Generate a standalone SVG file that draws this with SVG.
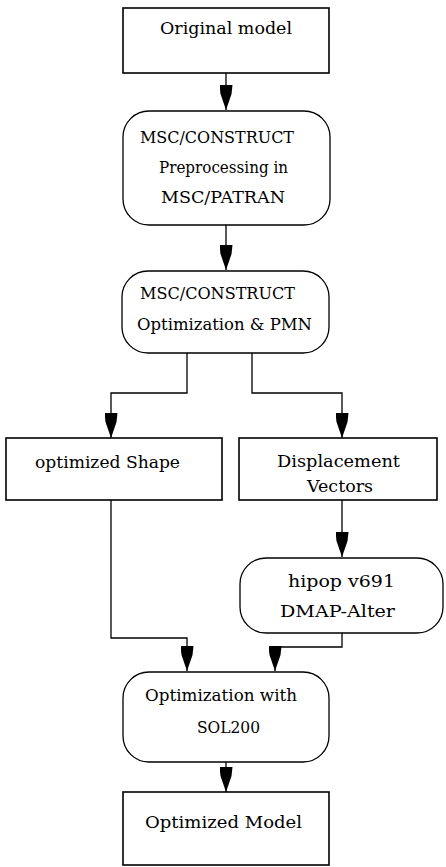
<svg xmlns="http://www.w3.org/2000/svg" width="446" height="867" viewBox="0 0 446 867">
<style>
  .box { fill: #ffffff; stroke: #000000; stroke-width: 1.6; }
  .rnd { fill: #ffffff; stroke: #000000; stroke-width: 1.3; }
  .lbl { font-family: 'DejaVu Serif', 'Liberation Serif', serif; font-size: 16px; fill: #000000; text-anchor: middle; }
  .con { fill: none; stroke: #000000; stroke-width: 1.3; marker-end: url(#ah); }
</style>
<defs>
  <marker id="ah" markerUnits="userSpaceOnUse" viewBox="0 0 25 13" refX="25" refY="6.5" markerWidth="25" markerHeight="13" orient="auto">
    <path d="M0,0 L9,1 L25,6.5 L9,12 L0,13 z" fill="#000000"/>
  </marker>
</defs>
<rect width="446" height="867" fill="#ffffff"/>

<g id="connectors">
  <path class="con" d="M226,73 L226,110"/>
  <path class="con" d="M226,225 L226,270"/>
  <path class="con" d="M187,353 L187,393 L111,393 L111,438"/>
  <path class="con" d="M252,353 L252,393 L342,393 L342,438"/>
  <path class="con" d="M342,500 L342,557"/>
  <path class="con" d="M111,500 L111,638 L187,638 L187,671"/>
  <path class="con" d="M342,633 L342,647 L275,647 L275,671"/>
  <path class="con" d="M226,762 L226,792"/>
</g>

<g id="original-model">
  <rect class="box" x="123" y="8" width="206" height="65"/>
  <text class="lbl" x="226" y="34" textLength="132" lengthAdjust="spacingAndGlyphs">Original model</text>
</g>

<g id="preprocessing">
  <rect class="rnd" x="123" y="111" width="207" height="114" rx="26" ry="26"/>
  <text class="lbl" x="217" y="143" textLength="154" lengthAdjust="spacingAndGlyphs">MSC/CONSTRUCT</text>
  <text class="lbl" x="223.5" y="173" textLength="129" lengthAdjust="spacingAndGlyphs">Preprocessing in</text>
  <text class="lbl" x="223" y="203" textLength="124" lengthAdjust="spacingAndGlyphs">MSC/PATRAN</text>
</g>

<g id="optimization-pmn">
  <rect class="rnd" x="122" y="271" width="207" height="82" rx="26" ry="26"/>
  <text class="lbl" x="217.5" y="299" textLength="155" lengthAdjust="spacingAndGlyphs">MSC/CONSTRUCT</text>
  <text class="lbl" x="224.5" y="330" textLength="175" lengthAdjust="spacingAndGlyphs">Optimization &amp; PMN</text>
</g>

<g id="optimized-shape">
  <rect class="box" x="6" y="438" width="216" height="62"/>
  <text class="lbl" x="107.5" y="468" textLength="145" lengthAdjust="spacingAndGlyphs">optimized Shape</text>
</g>

<g id="displacement-vectors">
  <rect class="box" x="239" y="438" width="198" height="62"/>
  <text class="lbl" x="338.5" y="467" textLength="123" lengthAdjust="spacingAndGlyphs">Displacement</text>
  <text class="lbl" x="340" y="492" textLength="66" lengthAdjust="spacingAndGlyphs">Vectors</text>
</g>

<g id="hipop">
  <rect class="rnd" x="240" y="558" width="203" height="75" rx="26" ry="26"/>
  <text class="lbl" x="341.5" y="587" textLength="107" lengthAdjust="spacingAndGlyphs">hipop v691</text>
  <text class="lbl" x="337.5" y="617" textLength="115" lengthAdjust="spacingAndGlyphs">DMAP-Alter</text>
</g>

<g id="optimization-sol200">
  <rect class="rnd" x="123" y="672" width="206" height="90" rx="26" ry="26"/>
  <text class="lbl" x="221" y="701" textLength="152" lengthAdjust="spacingAndGlyphs">Optimization with</text>
  <text class="lbl" x="228.5" y="733" textLength="63" lengthAdjust="spacingAndGlyphs">SOL200</text>
</g>

<g id="optimized-model">
  <rect class="box" x="123" y="792" width="206" height="73"/>
  <text class="lbl" x="223.5" y="828" textLength="157" lengthAdjust="spacingAndGlyphs">Optimized Model</text>
</g>
</svg>
